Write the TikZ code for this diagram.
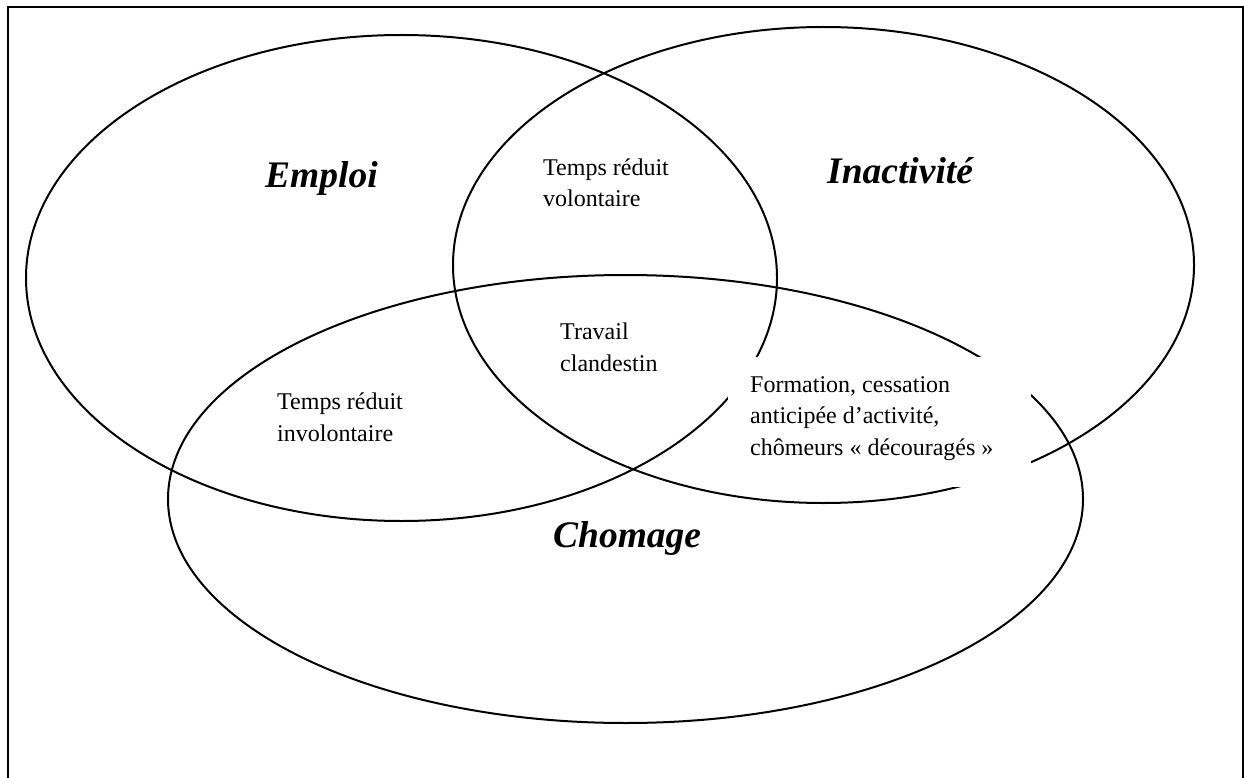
\documentclass[tikz,border=0pt]{standalone}
\usepackage{fontspec}
\setmainfont{Liberation Serif}
\begin{document}
\begin{tikzpicture}[x=1pt,y=-1pt,
  ring/.style={draw=black, line width=2pt},
  frame/.style={draw=black, line width=2.5pt},
  big/.style={font=\fontsize{37.5}{45}\selectfont\bfseries\itshape, inner sep=0pt, anchor=base west},
  small/.style={font=\fontsize{24}{31.5}\selectfont, inner sep=0pt, anchor=base west, align=left}]
\useasboundingbox (0,0) rectangle (1244,778);
\begin{scope}
\clip (0,0) rectangle (1244,778);
\draw[frame] (8,800) -- (8,7) -- (1243,7) -- (1243,800);
\end{scope}
% three sets
\draw[ring] (401.5,278) ellipse [x radius=375.5pt, y radius=243pt];
\draw[ring] (823.5,265) ellipse [x radius=370.5pt, y radius=238pt];
\draw[ring] (625.5,499) ellipse [x radius=457.5pt, y radius=224pt];
% white label background
\fill[white] (728,357) rectangle (1031,487);
% labels (base anchor = baseline of the last line)
\node[big] (emploi) at (265,188) {Emploi};
\node[big] (inact) at (827,183) {Inactivité};
\node[big] (chom) at (553,547) {Chomage};
\node[small] (vol) at (543,207) {Temps réduit\\volontaire};
\node[small] (clan) at (560,371) {Travail\\clandestin};
\node[small] (invol) at (277,441) {Temps réduit\\involontaire};
\node[small] (form) at (750,455) {Formation, cessation\\anticipée d’activité,\\chômeurs « découragés »};
\end{tikzpicture}
\end{document}
